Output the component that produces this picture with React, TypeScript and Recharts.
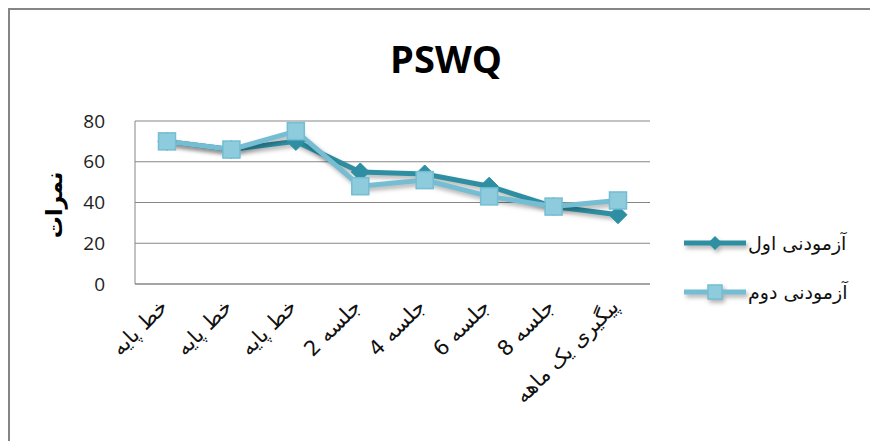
import React from 'react';
import { LineChart, Line, XAxis, YAxis, CartesianGrid } from 'recharts';

const categories = ['خط پایه', 'خط پایه', 'خط پایه', 'جلسه 2', 'جلسه 4', 'جلسه 6', 'جلسه 8', 'پیگیری یک ماهه'];
const test1 = [70, 66, 70, 55, 54, 48, 38, 34];
const test2 = [70, 66, 75, 48, 51, 43, 38, 41];
const seriesNames = ['آزمودنی اول', 'آزمودنی دوم'];
const yTicks = [0, 20, 40, 60, 80];
const title = 'PSWQ';
const yLabel = 'نمرات';

const data = categories.map((c, i) => ({ cat: c, s1: test1[i], s2: test2[i] }));

const C1 = '#2E8EA2';
const C2 = '#74BDD3';
const C2F = '#8DCBDD';

const Diamond = (props: any) => {
  const { cx, cy } = props;
  if (cx == null || cy == null) return null;
  const r = 9;
  return <polygon points={`${cx},${cy - r} ${cx + r},${cy} ${cx},${cy + r} ${cx - r},${cy}`} fill={C1} stroke={C1} strokeWidth={1} />;
};

const Square = (props: any) => {
  const { cx, cy } = props;
  if (cx == null || cy == null) return null;
  const s = 8.5;
  return <rect x={cx - s} y={cy - s} width={2 * s} height={2 * s} fill={C2F} stroke={C2} strokeWidth={1.5} />;
};

const XTick = (props: any) => {
  const { x, y, payload } = props;
  const ax = x + 2;
  const ay = y + 16;
  return (
    <text x={ax} y={ay} transform={`rotate(-45, ${ax}, ${ay})`} textAnchor="end" fontFamily="'DejaVu Sans'" fontSize={21} fill="#111">
      {payload.value}
    </text>
  );
};

const LegendBox = () => {
  const items = [
    { name: seriesNames[0], color: C1, marker: 'diamond' },
    { name: seriesNames[1], color: C2, marker: 'square' },
  ];
  return (
    <div style={{ position: 'absolute', left: 684, top: 218 }}>
      {items.map((it, i) => (
        <div key={i} style={{ display: 'flex', alignItems: 'center', height: 49 }}>
          <svg width={62} height={20} className="shadowed">
            <line x1={0} y1={10} x2={62} y2={10} stroke={it.color} strokeWidth={5} />
            {it.marker === 'diamond' ? (
              <polygon points="31,3 38,10 31,17 24,10" fill={C1} />
            ) : (
              <rect x={24} y={3} width={14} height={14} fill={C2F} stroke={C2} strokeWidth={1.5} />
            )}
          </svg>
          <span style={{ fontFamily: "'DejaVu Sans'", fontSize: 19, color: '#111', marginLeft: 2, whiteSpace: 'nowrap' }}>{it.name}</span>
        </div>
      ))}
    </div>
  );
};

export default function App() {
  return (
    <div style={{ position: 'absolute', left: 0, top: 0, width: 870, height: 441, background: '#fff', overflow: 'hidden' }}>
      <style>{`.shadowed { filter: drop-shadow(2px 3px 2px rgba(0,0,0,0.3)); }`}</style>
      <div style={{ position: 'absolute', left: 8, top: 8, right: -4, bottom: -4, borderTop: '2px solid #858585', borderLeft: '2px solid #858585' }} />
      <div style={{ position: 'absolute', left: 0, width: 892, top: 32, textAlign: 'center', fontFamily: "'Open Sans'", fontWeight: 700, fontSize: 38, color: '#000' }}>{title}</div>
      <div style={{ position: 'absolute', left: 54, top: 205, transform: 'translate(-50%, -50%) rotate(-90deg)', fontFamily: "'DejaVu Sans'", fontWeight: 700, fontSize: 22, color: '#000', whiteSpace: 'nowrap' }}>{yLabel}</div>
      <div style={{ position: 'absolute', left: 0, top: 0 }}>
        <LineChart width={870} height={441} data={data} margin={{ top: 121, right: 220, bottom: 7, left: 40 }}>
          <CartesianGrid vertical={false} stroke="#868686" strokeWidth={1} />
          <XAxis dataKey="cat" interval={0} tickLine={false} axisLine={{ stroke: '#868686' }} height={150} padding={{ left: 32, right: 32 }} tick={<XTick />} />
          <YAxis domain={[0, 80]} ticks={yTicks} width={95} tickLine={false} axisLine={{ stroke: '#868686' }} tickMargin={24} tick={{ fontFamily: "'Open Sans'", fontSize: 19, fill: '#222' }} />
          <Line className="shadowed" dataKey="s1" name={seriesNames[0]} stroke={C1} strokeWidth={5} dot={<Diamond />} activeDot={false} isAnimationActive={false} />
          <Line className="shadowed" dataKey="s2" name={seriesNames[1]} stroke={C2} strokeWidth={5} dot={<Square />} activeDot={false} isAnimationActive={false} />
        </LineChart>
      </div>
      <LegendBox />
    </div>
  );
}
